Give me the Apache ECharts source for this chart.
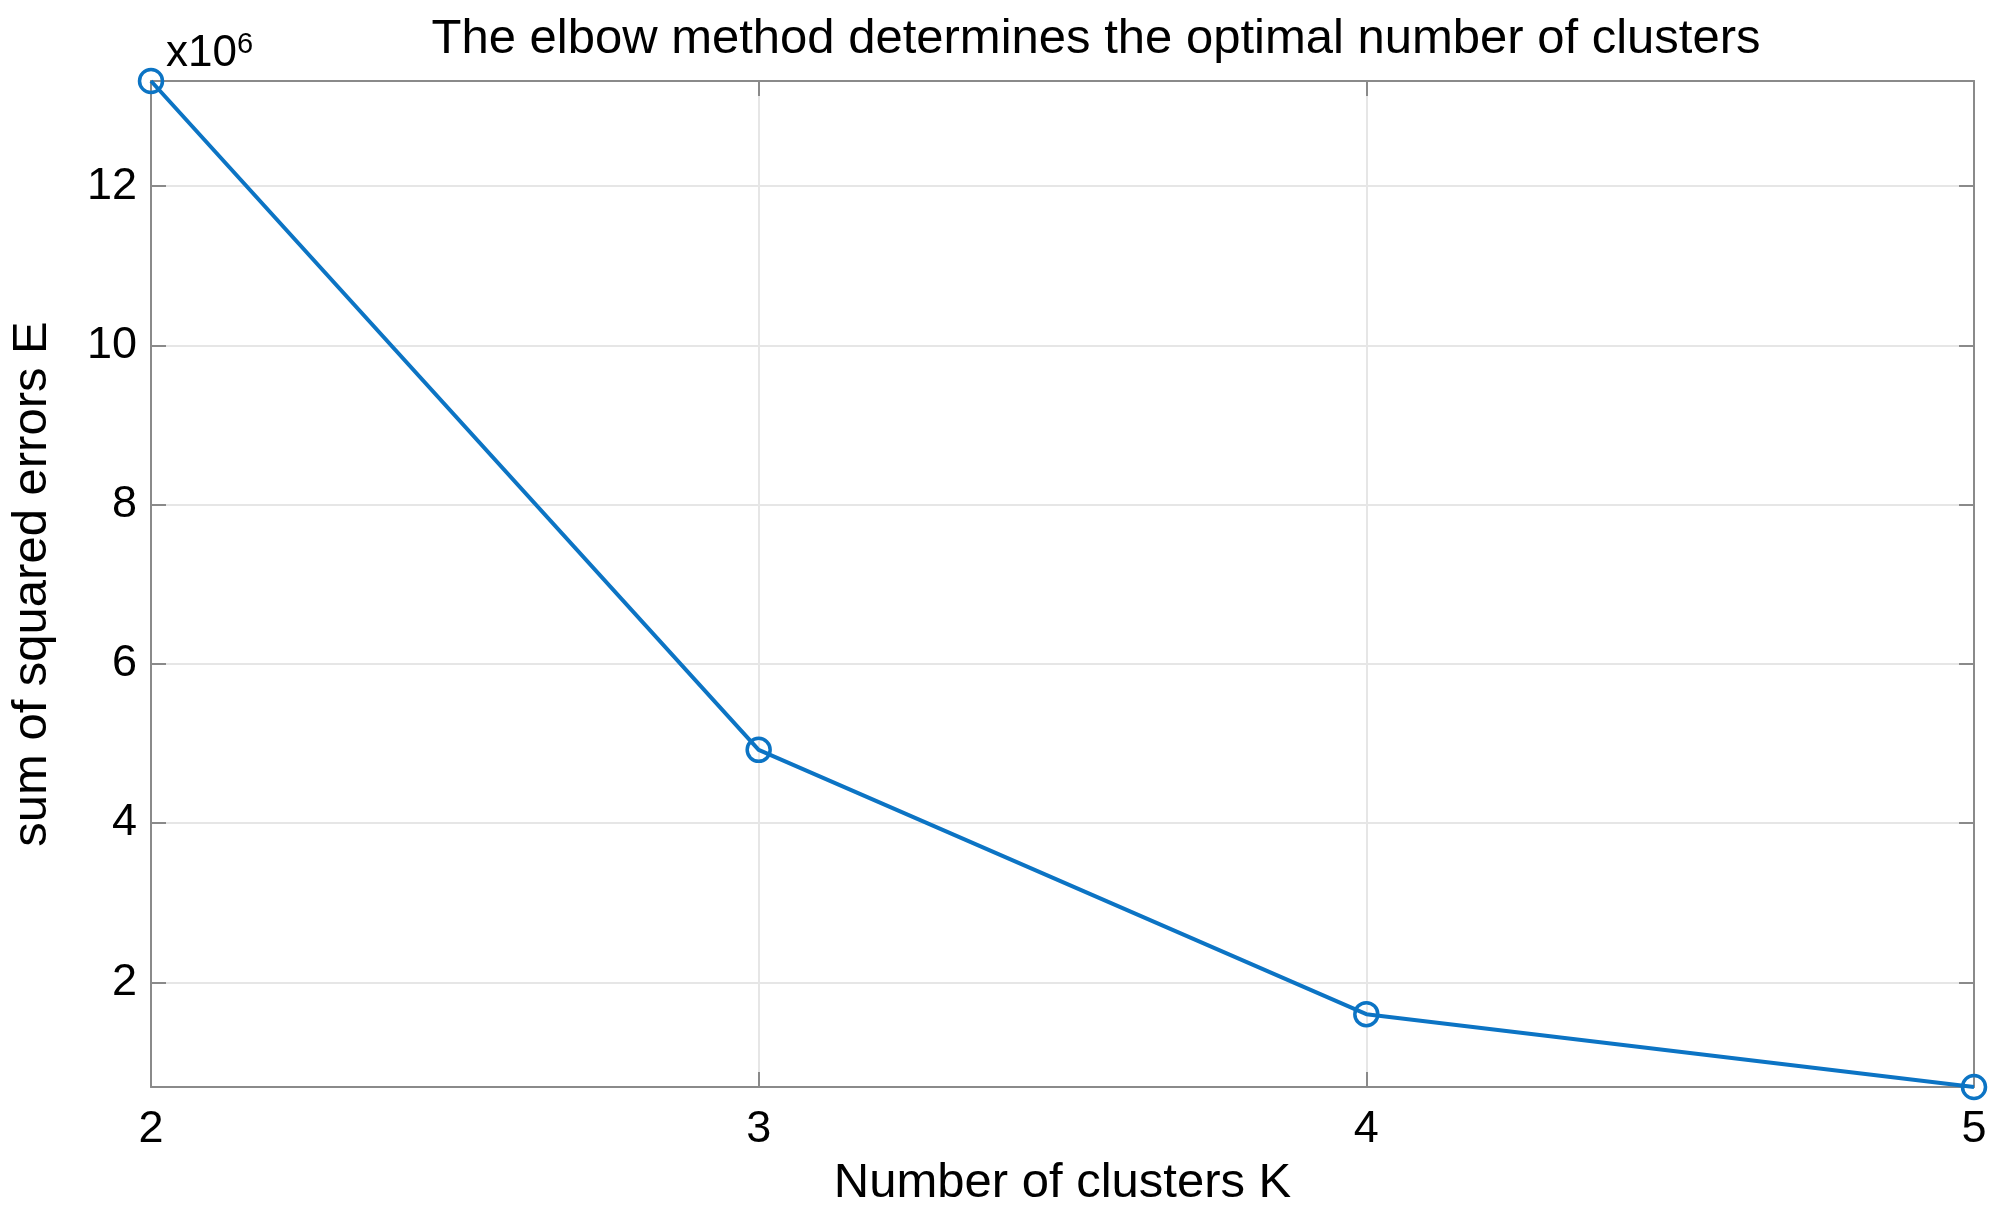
<!DOCTYPE html>
<html>
<head>
<meta charset="utf-8">
<script src="https://cdn.jsdelivr.net/npm/echarts@6/dist/echarts.min.js"></script>
<style>
html,body{margin:0;padding:0;background:#fff;}
#chart{width:2000px;height:1218px;}
</style>
</head>
<body>
<div id="chart"></div>
<script>
// Data (SSE in units of 1e6)
var kValues = [2, 3, 4, 5];
var sseValues = [13.32, 4.92, 1.60, 0.685];
var yTickLabels = [2, 4, 6, 8, 10, 12];
var xTickLabels = [2, 3, 4, 5];
var titleText = 'The elbow method determines the optimal number of clusters';
var xName = 'Number of clusters K';
var yName = 'sum of squared errors E';

var FONT = '"Liberation Sans", Arial, Helvetica, sans-serif';
var AX = '#8a8a8a';
var GRID = '#e6e6e6';
var BLUE = '#0c74c4';

var chart = echarts.init(document.getElementById('chart'), null, {renderer: 'canvas'});

var yMin = Math.min.apply(null, sseValues);
var yMax = Math.max.apply(null, sseValues);

function yFmt(v) {
  for (var i = 0; i < yTickLabels.length; i++) {
    if (Math.abs(v - yTickLabels[i]) < 1e-6) return String(yTickLabels[i]);
  }
  return '';
}
function xFmt(v) {
  for (var i = 0; i < xTickLabels.length; i++) {
    if (Math.abs(v - xTickLabels[i]) < 1e-6) return String(xTickLabels[i]);
  }
  return '';
}

var option = {
  backgroundColor: '#fff',
  animation: false,
  grid: {left: 151, right: 26, top: 81, bottom: 131, containLabel: false, outerBoundsMode: 'none'},
  graphic: [
    {type: 'text', x: 1096, y: 39,
     style: {text: titleText, font: '49px ' + FONT, fill: '#000', textAlign: 'center', textVerticalAlign: 'middle'}},
    {type: 'text', x: 166, y: 53,
     style: {
       text: '{b|x10}{s|6}',
       textVerticalAlign: 'middle',
       rich: {
         b: {fontFamily: FONT, fontSize: 44, color: '#000', verticalAlign: 'bottom', lineHeight: 46},
         s: {fontFamily: FONT, fontSize: 29, color: '#000', verticalAlign: 'top', lineHeight: 46, padding: [0,0,20,0]}
       }
     }}
  ],
  xAxis: [{
    type: 'value', min: 2, max: 5, interval: 1,
    name: xName, nameLocation: 'middle', nameGap: 72,
    nameTextStyle: {fontFamily: FONT, fontSize: 49, color: '#000'},
    axisLine: {show: true, onZero: false, lineStyle: {color: AX, width: 2}},
    axisTick: {show: true, inside: true, length: 15, lineStyle: {color: AX, width: 2}},
    axisLabel: {fontFamily: FONT, fontSize: 45, color: '#000', margin: 20, formatter: xFmt},
    splitLine: {show: true, lineStyle: {color: GRID, width: 2}}
  }, {
    type: 'value', min: 2, max: 5, interval: 1, position: 'top',
    axisLine: {show: true, onZero: false, lineStyle: {color: AX, width: 2}},
    axisTick: {show: true, inside: true, length: 15, lineStyle: {color: AX, width: 2}},
    axisLabel: {show: false},
    splitLine: {show: false}
  }],
  yAxis: [{
    type: 'value', min: yMin, max: yMax, splitNumber: 6,
    name: yName, nameLocation: 'middle', nameGap: 94, nameRotate: 90,
    nameTextStyle: {fontFamily: FONT, fontSize: 49, color: '#000'},
    axisLine: {show: true, onZero: false, lineStyle: {color: AX, width: 2}},
    axisTick: {show: true, inside: true, length: 15, lineStyle: {color: AX, width: 2}},
    axisLabel: {fontFamily: FONT, fontSize: 45, color: '#000', margin: 14, formatter: yFmt},
    splitLine: {show: true, lineStyle: {color: GRID, width: 2}}
  }, {
    type: 'value', min: yMin, max: yMax, splitNumber: 6, position: 'right',
    axisLine: {show: true, onZero: false, lineStyle: {color: AX, width: 2}},
    axisTick: {show: true, inside: true, length: 15, lineStyle: {color: AX, width: 2}},
    axisLabel: {show: false},
    splitLine: {show: false}
  }],
  series: [{
    type: 'line',
    xAxisIndex: 0, yAxisIndex: 0,
    data: kValues.map(function (k, i) { return [k, sseValues[i]]; }),
    symbol: 'circle', symbolSize: 23,
    itemStyle: {color: 'rgba(255,255,255,0)', borderColor: BLUE, borderWidth: 3.5},
    lineStyle: {color: BLUE, width: 4},
    clip: false,
    z: 5
  }]
};
chart.setOption(option);
</script>
</body>
</html>
